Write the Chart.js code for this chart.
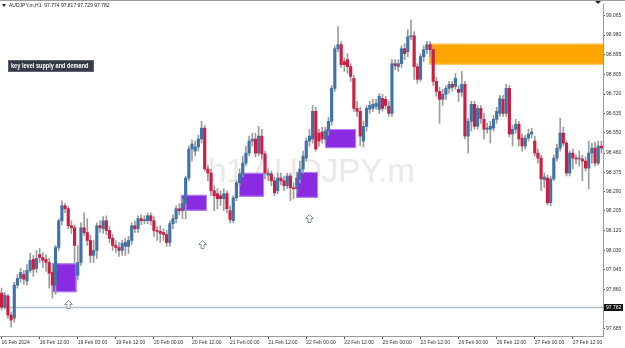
<!DOCTYPE html>
<html>
<head>
<meta charset="utf-8">
<title>AUDJPY.m H1</title>
<script src="https://cdn.jsdelivr.net/npm/chart.js@4.4.1/dist/chart.umd.min.js"></script>
<style>
  html, body { margin: 0; padding: 0; background: #fff; }
  #wrap { position: relative; width: 625px; height: 348px; overflow: hidden; }
  #mark {
    position: absolute; left: 208px; top: 154px; z-index: 0;
    font: 33px/33px "Liberation Sans", Arial, sans-serif; color: #e9e9e9; white-space: nowrap;
  }
  #chart { position: absolute; left: 0; top: 0; z-index: 1; }
  #topline { position: absolute; left: 0; top: 0; width: 625px; height: 1px; background: #9e9e9e; z-index: 2; }
  #title {
    position: absolute; left: 9px; top: 2px; z-index: 2; white-space: nowrap;
    font: 5px/6px "Liberation Sans", Arial, sans-serif; color: #222;
  }
  #tri {
    position: absolute; left: 2px; top: 4px; z-index: 2; width: 0; height: 0;
    border-left: 2px solid transparent; border-right: 2px solid transparent; border-top: 3px solid #222;
  }
  #keylabel {
    position: absolute; left: 8px; top: 60px; width: 84px; height: 10px; z-index: 2;
    background: #353a46; border: 1px solid #5d6270; color: #fff; white-space: nowrap; overflow: hidden;
    font: bold 7px/10px "Liberation Sans", Arial, sans-serif;
  }
  #keylabel span {
    display: block; margin-left: 2px; transform: scaleX(0.8); transform-origin: left center;
  }
</style>
</head>
<body>
<div id="wrap">
  <div id="mark">h1 AUDJPY.m</div>
  <canvas id="chart" width="625" height="348"></canvas>
  <div id="topline"></div>
  <div id="tri"></div>
  <div id="title">AUDJPY.m,H1&nbsp;&nbsp;97.774 97.817 97.729 97.782</div>
  <div id="keylabel"><span>key level supply and demand</span></div>
</div>
<script>
// trading days on the chart and the labels MT prints every 12 bars
const days = ["16 Feb", "19 Feb", "20 Feb", "21 Feb", "22 Feb", "23 Feb", "26 Feb", "27 Feb"];
const xTickLabels = [
  "16 Feb 2024", "16 Feb 12:00", "19 Feb 00:00", "19 Feb 12:00", "20 Feb 00:00", "20 Feb 12:00",
  "21 Feb 00:00", "21 Feb 12:00", "22 Feb 00:00", "22 Feb 12:00", "23 Feb 00:00", "23 Feb 12:00",
  "26 Feb 00:00", "26 Feb 12:00", "27 Feb 00:00", "27 Feb 12:00"
];
const yTicks = [99.065, 98.980, 98.895, 98.805, 98.720, 98.635, 98.550, 98.460, 98.375,
  98.290, 98.205, 98.120, 98.030, 97.945, 97.860, 97.685];

const opens = [
  97.843, 97.781, 97.830, 97.746, 97.733, 97.878, 97.908, 97.925, 97.896, 97.943,
  97.992, 97.952, 98.013, 98.000, 97.992, 97.978, 97.934, 97.878, 98.044, 98.162,
  98.228, 98.215, 98.140, 98.131, 97.921, 97.978, 98.131, 98.110, 98.075, 98.009,
  98.031, 98.140, 98.127, 98.162, 98.119, 98.084, 98.053, 98.044, 98.031, 98.049,
  98.049, 98.075, 98.140, 98.127, 98.171, 98.162, 98.162, 98.184, 98.162, 98.119,
  98.115, 98.110, 98.101, 98.066, 98.149, 98.171, 98.215, 98.206, 98.237, 98.350,
  98.478, 98.469, 98.487, 98.522, 98.570, 98.390, 98.372, 98.294, 98.281, 98.272,
  98.259, 98.281, 98.206, 98.162, 98.263, 98.329, 98.368, 98.416, 98.460, 98.513,
  98.522, 98.460, 98.535, 98.456, 98.363, 98.368, 98.338, 98.294, 98.350, 98.338,
  98.316, 98.359, 98.307, 98.303, 98.346, 98.390, 98.438, 98.513, 98.522, 98.644,
  98.548, 98.553, 98.522, 98.557, 98.600, 98.745, 98.920, 98.938, 98.863, 98.872,
  98.841, 98.789, 98.657, 98.644, 98.513, 98.578, 98.653, 98.657, 98.666, 98.653,
  98.701, 98.697, 98.666, 98.635, 98.854, 98.841, 98.854, 98.920, 98.907, 98.973,
  98.977, 98.841, 98.785, 98.885, 98.916, 98.938, 98.916, 98.776, 98.732, 98.697,
  98.719, 98.745, 98.763, 98.754, 98.741, 98.728, 98.763, 98.535, 98.600, 98.675,
  98.578, 98.657, 98.609, 98.565, 98.565, 98.570, 98.609, 98.635, 98.697, 98.635,
  98.745, 98.544, 98.565, 98.587, 98.526, 98.491, 98.526, 98.544, 98.513, 98.460,
  98.438, 98.342, 98.350, 98.241, 98.346, 98.438, 98.482, 98.548, 98.504, 98.372,
  98.460, 98.438, 98.434, 98.434, 98.425, 98.394, 98.460, 98.482, 98.416, 98.491
];
const highs = [
  97.865, 97.847, 97.838, 97.759, 97.891, 97.925, 97.952, 97.943, 97.969, 98.018,
  98.009, 98.031, 98.040, 98.022, 98.013, 97.996, 97.961, 98.053, 98.171, 98.250,
  98.237, 98.224, 98.162, 98.144, 98.053, 98.153, 98.197, 98.171, 98.097, 98.075,
  98.153, 98.162, 98.180, 98.184, 98.136, 98.101, 98.075, 98.066, 98.075, 98.084,
  98.093, 98.153, 98.162, 98.184, 98.188, 98.184, 98.197, 98.197, 98.180, 98.136,
  98.140, 98.127, 98.119, 98.162, 98.188, 98.228, 98.237, 98.259, 98.359, 98.491,
  98.517, 98.513, 98.539, 98.600, 98.582, 98.407, 98.390, 98.316, 98.303, 98.294,
  98.303, 98.294, 98.228, 98.272, 98.338, 98.390, 98.447, 98.491, 98.535, 98.548,
  98.548, 98.578, 98.565, 98.469, 98.390, 98.381, 98.355, 98.372, 98.372, 98.359,
  98.372, 98.372, 98.329, 98.372, 98.425, 98.469, 98.526, 98.565, 98.670, 98.662,
  98.565, 98.574, 98.574, 98.618, 98.758, 98.933, 99.017, 98.951, 98.881, 98.898,
  98.854, 98.802, 98.688, 98.662, 98.600, 98.670, 98.688, 98.697, 98.697, 98.723,
  98.719, 98.710, 98.688, 98.872, 98.872, 98.872, 98.933, 98.942, 99.004, 99.047,
  98.995, 98.854, 98.898, 98.933, 98.951, 98.951, 98.929, 98.794, 98.750, 98.741,
  98.758, 98.776, 98.776, 98.811, 98.758, 98.820, 98.776, 98.613, 98.688, 98.688,
  98.670, 98.670, 98.635, 98.591, 98.600, 98.626, 98.662, 98.714, 98.714, 98.763,
  98.758, 98.583, 98.609, 98.600, 98.544, 98.539, 98.565, 98.570, 98.535, 98.478,
  98.451, 98.372, 98.363, 98.359, 98.451, 98.500, 98.613, 98.574, 98.513, 98.469,
  98.478, 98.451, 98.469, 98.451, 98.443, 98.513, 98.504, 98.509, 98.513, 98.513
];
const lows = [
  97.768, 97.773, 97.733, 97.693, 97.715, 97.865, 97.891, 97.882, 97.878, 97.934,
  97.917, 97.934, 97.978, 97.956, 97.939, 97.865, 97.821, 97.838, 98.031, 98.144,
  98.197, 98.127, 98.106, 97.978, 97.900, 97.965, 98.097, 98.053, 97.978, 97.978,
  97.996, 98.110, 98.106, 98.101, 98.066, 98.031, 98.022, 98.005, 98.009, 98.009,
  98.018, 98.057, 98.110, 98.110, 98.144, 98.149, 98.149, 98.144, 98.093, 98.075,
  98.066, 98.075, 98.049, 98.049, 98.127, 98.153, 98.188, 98.171, 98.171, 98.338,
  98.425, 98.447, 98.469, 98.504, 98.381, 98.338, 98.272, 98.206, 98.215, 98.228,
  98.206, 98.197, 98.153, 98.153, 98.250, 98.316, 98.355, 98.403, 98.447, 98.491,
  98.443, 98.447, 98.434, 98.346, 98.338, 98.316, 98.272, 98.281, 98.320, 98.294,
  98.303, 98.250, 98.259, 98.285, 98.329, 98.372, 98.425, 98.491, 98.504, 98.469,
  98.491, 98.504, 98.504, 98.539, 98.583, 98.732, 98.907, 98.837, 98.820, 98.811,
  98.776, 98.644, 98.622, 98.491, 98.487, 98.557, 98.635, 98.644, 98.653, 98.635,
  98.644, 98.653, 98.622, 98.622, 98.828, 98.820, 98.837, 98.872, 98.885, 98.960,
  98.785, 98.767, 98.776, 98.863, 98.898, 98.885, 98.758, 98.710, 98.591, 98.670,
  98.697, 98.723, 98.732, 98.741, 98.688, 98.710, 98.522, 98.460, 98.557, 98.565,
  98.565, 98.591, 98.522, 98.548, 98.504, 98.557, 98.591, 98.622, 98.622, 98.622,
  98.531, 98.491, 98.548, 98.491, 98.469, 98.478, 98.513, 98.526, 98.447, 98.416,
  98.294, 98.307, 98.232, 98.228, 98.338, 98.425, 98.469, 98.491, 98.359, 98.359,
  98.390, 98.412, 98.403, 98.338, 98.381, 98.303, 98.416, 98.403, 98.407, 98.460
];
const closes = [
  97.781, 97.834, 97.746, 97.724, 97.878, 97.908, 97.934, 97.904, 97.943, 97.987,
  97.948, 97.996, 98.000, 97.987, 97.978, 97.930, 97.878, 98.044, 98.162, 98.228,
  98.215, 98.140, 98.131, 98.053, 97.978, 98.131, 98.110, 98.075, 98.009, 98.031,
  98.140, 98.131, 98.162, 98.119, 98.084, 98.053, 98.044, 98.031, 98.062, 98.066,
  98.075, 98.140, 98.127, 98.171, 98.162, 98.167, 98.184, 98.162, 98.119, 98.115,
  98.106, 98.101, 98.066, 98.149, 98.171, 98.215, 98.206, 98.237, 98.350, 98.478,
  98.500, 98.487, 98.522, 98.570, 98.390, 98.372, 98.294, 98.272, 98.259, 98.259,
  98.281, 98.215, 98.167, 98.263, 98.329, 98.368, 98.416, 98.460, 98.513, 98.522,
  98.460, 98.535, 98.456, 98.372, 98.372, 98.338, 98.285, 98.350, 98.338, 98.316,
  98.359, 98.307, 98.303, 98.350, 98.390, 98.447, 98.513, 98.535, 98.644, 98.478,
  98.513, 98.522, 98.557, 98.600, 98.745, 98.920, 98.938, 98.850, 98.850, 98.841,
  98.798, 98.657, 98.644, 98.535, 98.578, 98.657, 98.670, 98.675, 98.679, 98.710,
  98.657, 98.670, 98.635, 98.854, 98.845, 98.854, 98.920, 98.898, 98.973, 98.977,
  98.841, 98.785, 98.885, 98.916, 98.938, 98.916, 98.776, 98.732, 98.697, 98.719,
  98.745, 98.763, 98.750, 98.789, 98.728, 98.763, 98.535, 98.600, 98.675, 98.578,
  98.657, 98.613, 98.565, 98.570, 98.578, 98.609, 98.644, 98.701, 98.635, 98.745,
  98.544, 98.565, 98.587, 98.522, 98.491, 98.526, 98.544, 98.553, 98.460, 98.438,
  98.346, 98.355, 98.241, 98.346, 98.438, 98.482, 98.548, 98.504, 98.372, 98.460,
  98.438, 98.434, 98.438, 98.425, 98.394, 98.460, 98.482, 98.416, 98.491, 98.482
];

// demand zones (purple), given as bar positions and price edges
const zoneFrom = [15.9, 56.5, 74.8, 92.8, 101.9];
const zoneTo = [23.6, 64.7, 82.7, 99.7, 111.7];
const zoneHigh = [97.974, 98.276, 98.373, 98.377, 98.566];
const zoneLow = [97.847, 98.206, 98.268, 98.263, 98.482];
// supply zone (orange)
const supplyFrom = 134.7;
const supplyHigh = 98.942;
const supplyLow = 98.850;
// up arrows under the bars
const arrowBar = [21, 63, 97];
const arrowPrice = [97.812, 98.079, 98.193];
const lastPrice = 97.782;

const barTimes = [];
days.forEach(function (d) {
  for (let h = 0; h < 24; h++) {
    barTimes.push(d + " " + String(h).padStart(2, "0") + ":00");
  }
});
const labels = barTimes.slice(0, closes.length);

const bull = "#3f73a6";
const bear = "#cc1d43";
function candleColor(ctx) {
  const i = ctx.dataIndex;
  return closes[i] >= opens[i] ? bull : bear;
}

const overlay = {
  id: "overlay",
  beforeDatasetsDraw(chart) {
    const ctx = chart.ctx;
    const xs = chart.scales.x;
    const ys = chart.scales.y;
    const a = chart.chartArea;
    ctx.save();
    ctx.beginPath();
    ctx.rect(a.left, a.top, a.right - a.left, a.bottom - a.top);
    ctx.clip();

    // last price line
    const py = Math.round(ys.getPixelForValue(lastPrice)) + 0.5;
    ctx.strokeStyle = "#b4bec8";
    ctx.lineWidth = 1.5;
    ctx.beginPath();
    ctx.moveTo(a.left, py);
    ctx.lineTo(a.right, py);
    ctx.stroke();

    // demand zones
    ctx.lineWidth = 1;
    for (let i = 0; i < zoneFrom.length; i++) {
      const x0 = xs.getPixelForValue(zoneFrom[i]);
      const x1 = xs.getPixelForValue(zoneTo[i]);
      const y0 = ys.getPixelForValue(zoneHigh[i]);
      const y1 = ys.getPixelForValue(zoneLow[i]);
      ctx.fillStyle = "#8a2be2";
      ctx.fillRect(x0, y0, x1 - x0, y1 - y0);
      ctx.strokeStyle = "#b58af0";
      ctx.strokeRect(x0 + 0.5, y0 + 0.5, x1 - x0 - 1, y1 - y0 - 1);
    }

    // supply zone
    const sx = xs.getPixelForValue(supplyFrom);
    const sy0 = ys.getPixelForValue(supplyHigh);
    const sy1 = ys.getPixelForValue(supplyLow);
    ctx.fillStyle = "#ffa500";
    ctx.fillRect(sx, sy0, a.right - sx, sy1 - sy0);
    ctx.strokeStyle = "#ffc65a";
    ctx.strokeRect(sx + 0.5, sy0 + 0.5, a.right - sx, sy1 - sy0 - 1);
    ctx.restore();
  },
  afterDatasetsDraw(chart) {
    const ctx = chart.ctx;
    const xs = chart.scales.x;
    const ys = chart.scales.y;
    ctx.save();
    ctx.fillStyle = "#fff";
    ctx.strokeStyle = "#8296aa";
    ctx.lineWidth = 1;
    for (let i = 0; i < arrowBar.length; i++) {
      const x = Math.round(xs.getPixelForValue(arrowBar[i])) + 0.5;
      const y = Math.round(ys.getPixelForValue(arrowPrice[i])) + 0.5;
      ctx.beginPath();
      ctx.moveTo(x, y);
      ctx.lineTo(x + 4, y + 4);
      ctx.lineTo(x + 1.5, y + 4);
      ctx.lineTo(x + 1.5, y + 8);
      ctx.lineTo(x - 1.5, y + 8);
      ctx.lineTo(x - 1.5, y + 4);
      ctx.lineTo(x - 4, y + 4);
      ctx.closePath();
      ctx.fill();
      ctx.stroke();
    }
    ctx.restore();
  },
  afterDraw(chart) {
    const ctx = chart.ctx;
    const ys = chart.scales.y;
    const a = chart.chartArea;
    ctx.save();
    const py = Math.round(ys.getPixelForValue(lastPrice));
    ctx.fillStyle = "#111";
    ctx.fillRect(a.right + 1, py - 3, 19, 7);
    ctx.fillStyle = "#fff";
    ctx.font = "5px 'Liberation Sans', Arial, sans-serif";
    ctx.textBaseline = "middle";
    ctx.textAlign = "left";
    ctx.fillText(lastPrice.toFixed(3), a.right + 3, py + 0.5);
    // small corner marker
    ctx.fillStyle = "#222";
    ctx.beginPath();
    ctx.moveTo(595, 1);
    ctx.lineTo(601, 1);
    ctx.lineTo(598, 4);
    ctx.closePath();
    ctx.fill();
    ctx.restore();
  }
};

Chart.defaults.font.family = "'Liberation Sans', Arial, sans-serif";

new Chart(document.getElementById("chart"), {
  type: "bar",
  data: {
    labels: labels,
    datasets: [
      {
        label: "wick",
        data: lows.map(function (l, i) { return [l, highs[i]]; }),
        backgroundColor: "#9c9c9c",
        barThickness: 1,
        grouped: false,
        order: 2
      },
      {
        label: "body",
        data: opens.map(function (o, i) { return [o, closes[i]]; }),
        backgroundColor: candleColor,
        barThickness: 2.5,
        minBarLength: 1,
        grouped: false,
        order: 1
      }
    ]
  },
  options: {
    responsive: false,
    animation: false,
    devicePixelRatio: 1,
    layout: { padding: { top: 2, left: 0, right: 0, bottom: 0 } },
    plugins: { legend: { display: false }, tooltip: { enabled: false } },
    scales: {
      x: {
        offset: true,
        grid: { drawOnChartArea: false, offset: false, tickLength: 3, color: "#555" },
        border: { color: "#9a9a9a" },
        afterBuildTicks: function (scale) {
          scale.ticks = scale.ticks.filter(function (t) { return t.value % 12 === 0; });
        },
        afterFit: function (scale) { scale.height = 12; },
        ticks: {
          autoSkip: false,
          maxRotation: 0,
          align: "start",
          padding: 1,
          color: "#333",
          font: { size: 5 },
          callback: function (value) { return xTickLabels[value / 12]; }
        }
      },
      y: {
        position: "right",
        min: 97.654,
        max: 99.117,
        grid: { drawOnChartArea: false, tickLength: 2, color: "#555" },
        border: { color: "#9a9a9a" },
        afterBuildTicks: function (scale) {
          scale.ticks = yTicks.map(function (v) { return { value: v }; });
        },
        afterFit: function (scale) { scale.width = 22; },
        ticks: {
          padding: 1,
          color: "#333",
          font: { size: 5 },
          callback: function (value) { return value.toFixed(3); }
        }
      }
    }
  },
  plugins: [overlay]
});
</script>
</body>
</html>
